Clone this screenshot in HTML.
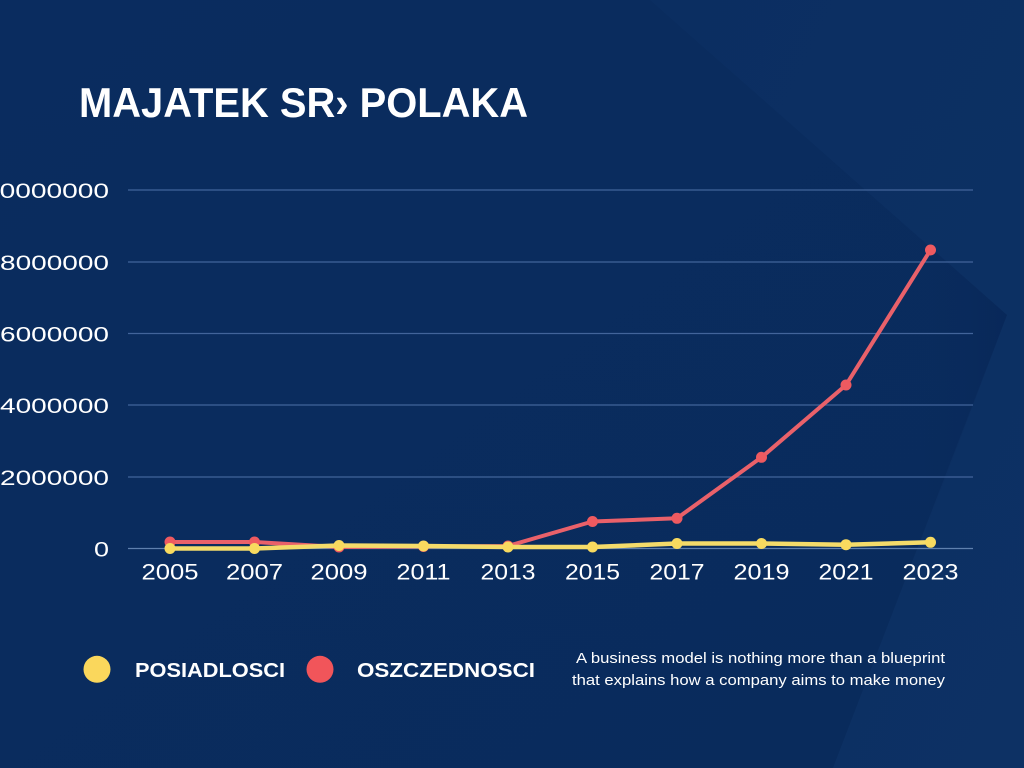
<!DOCTYPE html>
<html>
<head>
<meta charset="utf-8">
<style>
html,body{margin:0;padding:0;width:1024px;height:768px;overflow:hidden;background:#0a2c5e;}
svg{display:block;}
</style>
</head>
<body>
<svg width="1024" height="768" viewBox="0 0 1024 768" xmlns="http://www.w3.org/2000/svg">
  <defs>
    <linearGradient id="bg" x1="0" y1="0" x2="1" y2="1">
      <stop offset="0" stop-color="#0a2c5f"/>
      <stop offset="1" stop-color="#092b5c"/>
    </linearGradient>
    <linearGradient id="lt" x1="0" y1="0" x2="1" y2="1">
      <stop offset="0" stop-color="#0b2e61"/>
      <stop offset="1" stop-color="#0d3164"/>
    </linearGradient>
    <linearGradient id="dk" x1="0" y1="0" x2="1" y2="0">
      <stop offset="0" stop-color="#0a2c5e" stop-opacity="0"/>
      <stop offset="1" stop-color="#061f4f" stop-opacity="0.45"/>
    </linearGradient>
  </defs>
  <rect width="1024" height="768" fill="url(#bg)"/>
  <polygon points="650,0 1024,0 1024,768 833,768 1007,315" fill="url(#lt)"/>
  <polygon points="900,220 1007,315 930,520" fill="url(#dk)" opacity="0.6"/>

  <!-- Title -->
  <text x="79" y="117" fill="#ffffff" font-family="Liberation Sans, sans-serif" font-weight="bold" font-size="42" textLength="449" lengthAdjust="spacingAndGlyphs">MAJATEK SR› POLAKA</text>

  <!-- Grid -->
  <g stroke="#42649a" stroke-width="1.3">
    <line x1="128" y1="190" x2="973" y2="190"/>
    <line x1="128" y1="262" x2="973" y2="262"/>
    <line x1="128" y1="333.5" x2="973" y2="333.5"/>
    <line x1="128" y1="405" x2="973" y2="405"/>
    <line x1="128" y1="477" x2="973" y2="477"/>
    <line x1="128" y1="548.5" x2="973" y2="548.5" stroke="#5f80ae"/>
  </g>

  <!-- Y labels -->
  <g fill="#ffffff" font-family="Liberation Sans, sans-serif" font-size="21" text-anchor="end">
    <text x="109" y="198" textLength="125" lengthAdjust="spacingAndGlyphs">10000000</text>
    <text x="109" y="270" textLength="109" lengthAdjust="spacingAndGlyphs">8000000</text>
    <text x="109" y="341.5" textLength="109" lengthAdjust="spacingAndGlyphs">6000000</text>
    <text x="109" y="413" textLength="109" lengthAdjust="spacingAndGlyphs">4000000</text>
    <text x="109" y="485" textLength="109" lengthAdjust="spacingAndGlyphs">2000000</text>
    <text x="109" y="556.5" textLength="15" lengthAdjust="spacingAndGlyphs">0</text>
  </g>

  <!-- X labels -->
  <g fill="#ffffff" font-family="Liberation Sans, sans-serif" font-size="22" text-anchor="middle">
    <text x="170" y="579.5" textLength="57" lengthAdjust="spacingAndGlyphs">2005</text>
    <text x="254.5" y="579.5" textLength="57" lengthAdjust="spacingAndGlyphs">2007</text>
    <text x="339" y="579.5" textLength="57" lengthAdjust="spacingAndGlyphs">2009</text>
    <text x="423.5" y="579.5" textLength="54" lengthAdjust="spacingAndGlyphs">2011</text>
    <text x="508" y="579.5" textLength="55" lengthAdjust="spacingAndGlyphs">2013</text>
    <text x="592.5" y="579.5" textLength="55" lengthAdjust="spacingAndGlyphs">2015</text>
    <text x="677" y="579.5" textLength="55" lengthAdjust="spacingAndGlyphs">2017</text>
    <text x="761.5" y="579.5" textLength="56" lengthAdjust="spacingAndGlyphs">2019</text>
    <text x="846" y="579.5" textLength="55" lengthAdjust="spacingAndGlyphs">2021</text>
    <text x="930.5" y="579.5" textLength="56" lengthAdjust="spacingAndGlyphs">2023</text>
  </g>

  <!-- Red series -->
  <polyline fill="none" stroke="#e9616a" stroke-width="4" stroke-linejoin="round" stroke-linecap="round"
    points="170,542 254.5,542 339,547 423.5,546.5 508,546 592.5,521.5 677,518.3 761.5,457.3 846,385 930.5,250"/>
  <g fill="#ee5a60">
    <circle cx="170" cy="542" r="5.5"/>
    <circle cx="254.5" cy="542" r="5.5"/>
    <circle cx="339" cy="547" r="5.5"/>
    <circle cx="423.5" cy="546.5" r="5.5"/>
    <circle cx="508" cy="546" r="5.5"/>
    <circle cx="592.5" cy="521.5" r="5.5"/>
    <circle cx="677" cy="518.3" r="5.5"/>
    <circle cx="761.5" cy="457.3" r="5.5"/>
    <circle cx="846" cy="385" r="5.5"/>
    <circle cx="930.5" cy="250" r="5.5"/>
  </g>

  <!-- Yellow series -->
  <polyline fill="none" stroke="#f4db6a" stroke-width="4.5" stroke-linejoin="round" stroke-linecap="round"
    points="170,548.5 254.5,548.5 339,545.5 423.5,546 508,547 592.5,547 677,543.5 761.5,543.5 846,544.7 930.5,542.3"/>
  <g fill="#f8da5f">
    <circle cx="170" cy="548.5" r="5.5"/>
    <circle cx="254.5" cy="548.5" r="5.5"/>
    <circle cx="339" cy="545.5" r="5.5"/>
    <circle cx="423.5" cy="546" r="5.5"/>
    <circle cx="508" cy="547" r="5.5"/>
    <circle cx="592.5" cy="547" r="5.5"/>
    <circle cx="677" cy="543.5" r="5.5"/>
    <circle cx="761.5" cy="543.5" r="5.5"/>
    <circle cx="846" cy="544.7" r="5.5"/>
    <circle cx="930.5" cy="542.3" r="5.5"/>
  </g>

  <!-- Legend -->
  <circle cx="97" cy="669.3" r="13.5" fill="#fad75c"/>
  <text x="135" y="677" fill="#ffffff" font-family="Liberation Sans, sans-serif" font-weight="bold" font-size="20" textLength="150" lengthAdjust="spacingAndGlyphs">POSIADLOSCI</text>
  <circle cx="320" cy="669.3" r="13.5" fill="#f1555a"/>
  <text x="357" y="677" fill="#ffffff" font-family="Liberation Sans, sans-serif" font-weight="bold" font-size="20" textLength="178" lengthAdjust="spacingAndGlyphs">OSZCZEDNOSCI</text>

  <!-- Description -->
  <g fill="#ffffff" font-family="Liberation Sans, sans-serif" font-size="15">
    <text x="576" y="663" textLength="369" lengthAdjust="spacingAndGlyphs">A business model is nothing more than a blueprint</text>
    <text x="572" y="685" textLength="373" lengthAdjust="spacingAndGlyphs">that explains how a company aims to make money</text>
  </g>
</svg>
</body>
</html>
